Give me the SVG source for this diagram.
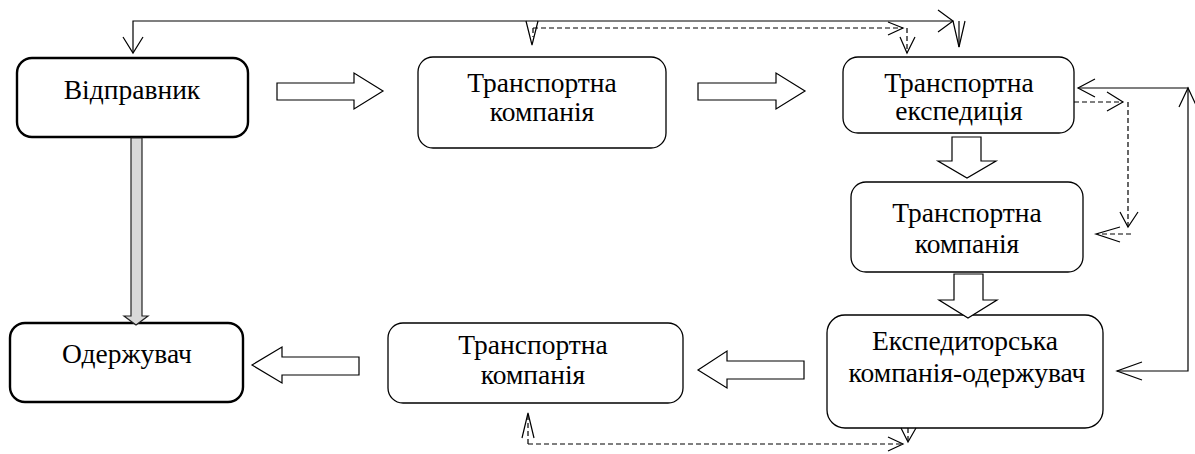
<svg xmlns="http://www.w3.org/2000/svg" width="1195" height="454" viewBox="0 0 1195 454">
  <style>
    .box { fill: #ffffff; stroke: #000000; stroke-width: 1.3; }
    .box-bold { fill: #ffffff; stroke: #000000; stroke-width: 2.4; }
    .label { font-family: "Liberation Serif", "Times New Roman", serif; font-size: 27.5px; fill: #000000; text-anchor: middle; }
    .block { fill: #ffffff; stroke: #000000; stroke-width: 1.2; stroke-linejoin: miter; }
    .block-grey { fill: #d9d9d9; stroke: #222222; stroke-width: 1.2; }
    .line { fill: none; stroke: #000000; stroke-width: 1.2; }
    .dash { fill: none; stroke: #000000; stroke-width: 1.2; stroke-dasharray: 5 3; }
  </style>

  <!-- nodes -->
  <g id="sender">
    <rect class="box-bold" x="17" y="58" width="231" height="79" rx="15"/>
    <text class="label" x="132" y="99">Відправник</text>
  </g>
  <g id="carrier-1">
    <rect class="box" x="418" y="57" width="248" height="91" rx="15"/>
    <text class="label" x="542" y="92">Транспортна</text>
    <text class="label" x="542" y="121">компанія</text>
  </g>
  <g id="forwarding">
    <rect class="box" x="843" y="57" width="231" height="76" rx="15"/>
    <text class="label" x="959" y="92">Транспортна</text>
    <text class="label" x="959" y="120">експедиція</text>
  </g>
  <g id="carrier-2">
    <rect class="box" x="851" y="182" width="232" height="90" rx="15"/>
    <text class="label" x="967" y="222">Транспортна</text>
    <text class="label" x="967" y="253">компанія</text>
  </g>
  <g id="receiving-forwarder">
    <rect class="box" x="827" y="315" width="276" height="113" rx="18"/>
    <text class="label" x="965" y="350">Експедиторська</text>
    <text class="label" x="967" y="382">компанія-одержувач</text>
  </g>
  <g id="carrier-3">
    <rect class="box" x="388" y="323" width="295" height="80" rx="15"/>
    <text class="label" x="533" y="354">Транспортна</text>
    <text class="label" x="533" y="384">компанія</text>
  </g>
  <g id="recipient">
    <rect class="box-bold" x="10" y="323" width="233" height="79" rx="15"/>
    <text class="label" x="127" y="363">Одержувач</text>
  </g>

  <!-- connectors -->
  <g id="connectors">
    <!-- block arrows of the cargo flow -->
    <polygon class="block" points="277,83 354,83 354,73 383,91 354,109 354,100 277,100"/>
    <polygon class="block" points="698,83 776,83 776,73 805,91 776,109 776,100 698,100"/>
    <polygon class="block" points="952,137 981,137 981,161 996,161 967,178 938,161 952,161"/>
    <polygon class="block" points="954,274 983,274 983,300 997,300 968,318 939,300 954,300"/>
    <polygon class="block" points="804,361 727,361 727,351 698,370 727,388 727,379 804,379"/>
    <polygon class="block" points="359,357 282,357 282,347 252,365 282,383 282,375 359,375"/>
    <polygon class="block-grey" points="131,138 142,138 142,316 148,316 136,325 124,316 131,316"/>

    <!-- solid information line across the top -->
    <polyline class="line" points="133,53 133,21 953,21"/>
    <polyline class="line" points="123,37 133,53 143,37"/>
    <polyline class="line" points="938,10 953,21 938,32"/>
    <line class="line" x1="959" y1="21" x2="959" y2="47"/>
    <polyline class="line" points="953,21 959,47 965,21"/>
    <polyline class="line" points="526,21 532,45 538,21"/>

    <!-- dashed line at the top -->
    <line class="dash" x1="533" y1="28" x2="903" y2="28"/>
    <line class="dash" x1="533" y1="28" x2="533" y2="37"/>
    <polyline class="line" points="888,22 903,28 888,35"/>
    <line class="dash" x1="907" y1="28" x2="907" y2="53"/>
    <polyline class="line" points="900,37 907,53 915,37"/>

    <!-- solid loop on the right -->
    <polyline class="line" points="1117,371 1188,371 1188,88 1078,88"/>
    <polyline class="line" points="1095,79 1078,88 1095,97"/>
    <polyline class="line" points="1179,107 1188,88 1197,107"/>
    <polyline class="line" points="1142,362 1117,371 1142,380"/>

    <!-- dashed loop on the right -->
    <line class="dash" x1="1074" y1="102" x2="1123" y2="102"/>
    <polyline class="line" points="1107,92 1123,102 1107,111"/>
    <line class="dash" x1="1128" y1="102" x2="1128" y2="227"/>
    <polyline class="line" points="1120,212 1128,227 1138,212"/>
    <line class="dash" x1="1131" y1="234" x2="1097" y2="234"/>
    <polyline class="line" points="1120,227 1096,234 1120,242"/>

    <!-- dashed line at the bottom -->
    <line class="dash" x1="528" y1="444" x2="903" y2="444"/>
    <polyline class="line" points="888,437 903,444 888,451"/>
    <line class="dash" x1="528" y1="444" x2="528" y2="415"/>
    <polyline class="line" points="522,438 528,413 534,438"/>
    <line class="dash" x1="908" y1="428" x2="908" y2="442"/>
    <polyline class="line" points="901,428 908,442 916,428"/>
  </g>
</svg>
